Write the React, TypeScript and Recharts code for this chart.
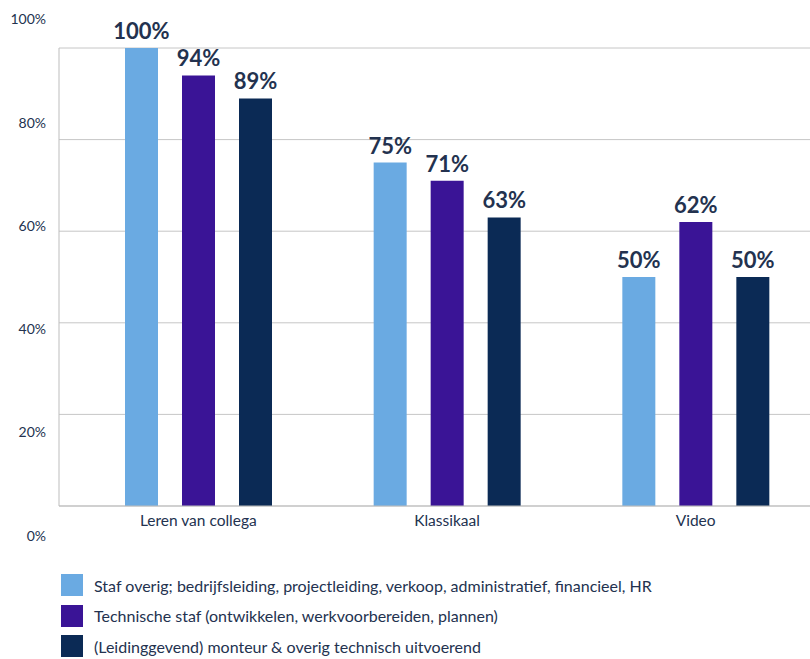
import { BarChart, Bar, XAxis, YAxis, CartesianGrid, Legend, LabelList } from 'recharts';

const categories = ['Leren van collega', 'Klassikaal', 'Video'];
const stafOverig = [100, 75, 50];
const technischeStaf = [94, 71, 62];
const monteur = [89, 63, 50];
const yTicks = [0, 20, 40, 60, 80, 100];

const seriesNames = [
  'Staf overig; bedrijfsleiding, projectleiding, verkoop, administratief, financieel, HR',
  'Technische staf (ontwikkelen, werkvoorbereiden, plannen)',
  '(Leidinggevend) monteur & overig technisch uitvoerend',
];
const colors = ['#6aaae2', '#3a1496', '#0b2a55'];

const data = categories.map((name, i) => ({
  name,
  staf: stafOverig[i],
  tech: technischeStaf[i],
  monteur: monteur[i],
}));

const FONT = 'Lato, "Open Sans", sans-serif';
const TEXT = '#23324f';

// labels in the original sit on a slightly stretched scale relative to the gridlines
const YTick = ({ x, y, payload }: any) => {
  const mid = 277;
  const ly = mid + (y - mid) * 1.128;
  return (
    <text x={x - 5} y={ly} textAnchor="end" dominantBaseline="central" fontSize={14} fill={TEXT} fontFamily={FONT}>
      {payload.value}%
    </text>
  );
};

const LegendBox = () => (
  <div style={{ height: 90, fontFamily: FONT, fontSize: 16, color: TEXT, whiteSpace: 'nowrap' }}>
    {seriesNames.map((s, i) => (
      <div key={s} style={{ display: 'flex', alignItems: 'center', height: 30.5 }}>
        <span style={{ display: 'inline-block', width: 22, height: 22, background: colors[i], marginRight: 11 }} />
        <span>{s}</span>
      </div>
    ))}
  </div>
);

const pct = (v: any) => `${v}%`;

export default function App() {
  return (
    <div style={{ position: 'absolute', top: 0, left: 0, width: 810, height: 659, overflow: 'hidden', background: '#fff' }}>
      <BarChart
        width={820}
        height={659}
        data={data}
        margin={{ top: 48, right: 0, bottom: 29, left: 0 }}
        barSize={33}
        barGap={24}
      >
        <CartesianGrid vertical={false} stroke="#c6c6c6" />
        <XAxis
          dataKey="name"
          height={34}
          padding={{ left: 15, right: 0 }}
          axisLine={{ stroke: '#bdbdbd' }}
          tickLine={false}
          tick={{ fontSize: 15.5, fill: TEXT, fontFamily: FONT }}
          tickMargin={3}
        />
        <YAxis
          width={59}
          domain={[0, 100]}
          ticks={yTicks}
          axisLine={{ stroke: '#bdbdbd' }}
          tickLine={false}
          tick={<YTick />}
        />
        <Legend
          verticalAlign="bottom"
          content={<LegendBox />}
          wrapperStyle={{ top: 570, left: 61, bottom: 'auto', width: 'auto' }}
        />
        <Bar dataKey="staf" name={seriesNames[0]} fill={colors[0]} isAnimationActive={false}>
          <LabelList dataKey="staf" position="top" offset={9} formatter={pct} fontSize={22} fontWeight={700} fill={TEXT} fontFamily={FONT} />
        </Bar>
        <Bar dataKey="tech" name={seriesNames[1]} fill={colors[1]} isAnimationActive={false}>
          <LabelList dataKey="tech" position="top" offset={9} formatter={pct} fontSize={22} fontWeight={700} fill={TEXT} fontFamily={FONT} />
        </Bar>
        <Bar dataKey="monteur" name={seriesNames[2]} fill={colors[2]} isAnimationActive={false}>
          <LabelList dataKey="monteur" position="top" offset={9} formatter={pct} fontSize={22} fontWeight={700} fill={TEXT} fontFamily={FONT} />
        </Bar>
      </BarChart>
    </div>
  );
}
